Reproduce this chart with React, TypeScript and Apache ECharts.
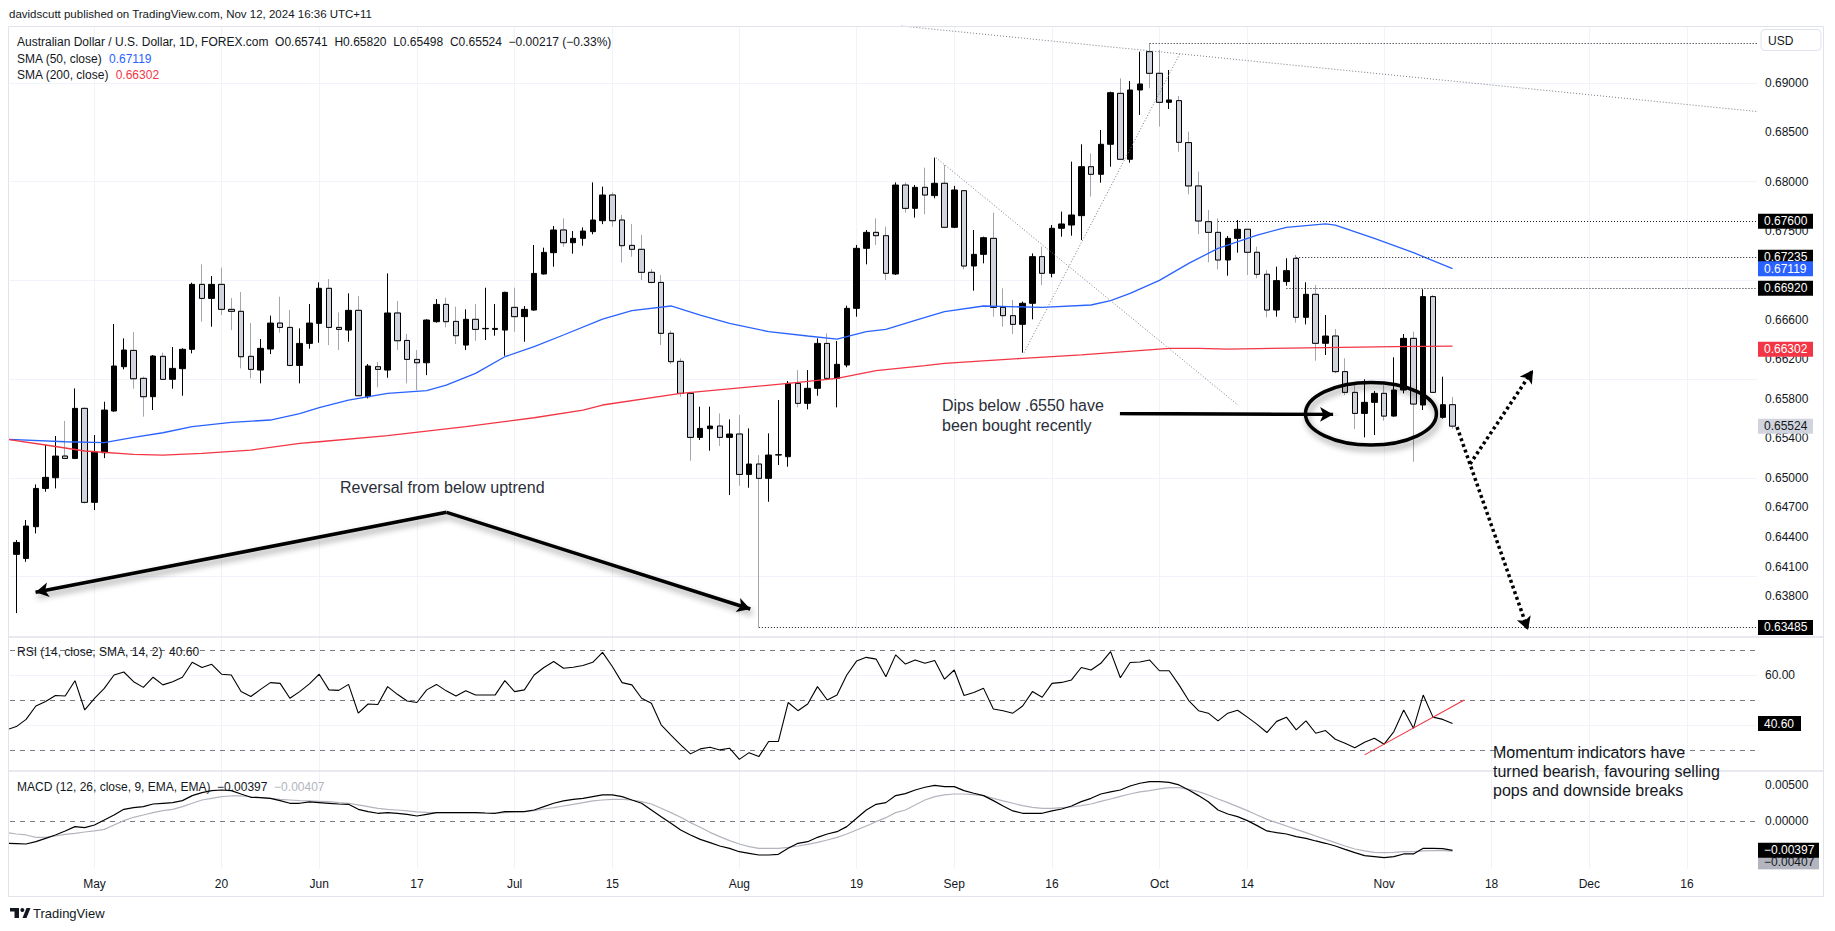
import React, { useEffect, useRef } from "react";
import * as echarts from "echarts";

// ---------- DATA ----------
const START_DATE = "2024-04-18"; // first (partly visible) daily bar

const opens = [0.6437, 0.64225, 0.64184, 0.64505, 0.64893, 0.65001, 0.65221, 0.65197, 0.65704, 0.64752,
  0.65255, 0.65677, 0.66126, 0.66291, 0.66008, 0.65822, 0.66231, 0.65998, 0.66106, 0.66302,
  0.6696, 0.66818, 0.6696, 0.66707, 0.66687, 0.66231, 0.66092, 0.66305, 0.66568, 0.66524,
  0.66139, 0.66362, 0.66565, 0.6692, 0.66524, 0.66497, 0.66697, 0.65822, 0.66126, 0.66092,
  0.6667, 0.66392, 0.662, 0.66166, 0.66582, 0.66757, 0.66585, 0.66345, 0.66606, 0.6651,
  0.66504, 0.66497, 0.66727, 0.66633, 0.667, 0.67065, 0.67281, 0.67511, 0.67382, 0.67426,
  0.67494, 0.67605, 0.67865, 0.67612, 0.67355, 0.67315, 0.67082, 0.6698, 0.66464, 0.6618,
  0.65856, 0.6541, 0.65498, 0.65525, 0.6541, 0.65444, 0.65035, 0.6514, 0.64995, 0.65231,
  0.65214, 0.65957, 0.65755, 0.65907, 0.66362, 0.66008, 0.66143, 0.66717, 0.67325, 0.67487,
  0.67453, 0.67065, 0.67966, 0.6773, 0.67943, 0.67859, 0.67984, 0.67538, 0.67909, 0.67146,
  0.67264, 0.67426, 0.66727, 0.66643, 0.66555, 0.66768, 0.67241, 0.67072, 0.67528, 0.67561,
  0.67656, 0.68152, 0.68075, 0.68379, 0.68895, 0.68227, 0.68929, 0.69317, 0.69098, 0.68804,
  0.68821, 0.68396, 0.67957, 0.67595, 0.67487, 0.67207, 0.67426, 0.67518, 0.67285, 0.67062,
  0.667, 0.66988, 0.67224, 0.66626, 0.66859, 0.66363, 0.66437, 0.66076, 0.65866, 0.65653,
  0.65765, 0.65856, 0.65626, 0.6589, 0.66413, 0.65738, 0.66836, 0.65613, 0.65741];

const highs = [0.6445, 0.6437, 0.64573, 0.64934, 0.65333, 0.65424, 0.65576, 0.65906, 0.65714, 0.65434,
  0.65771, 0.66558, 0.66413, 0.66477, 0.66025, 0.66244, 0.66268, 0.66325, 0.66312, 0.66977,
  0.67163, 0.67044, 0.67129, 0.66822, 0.66882, 0.66568, 0.66406, 0.66643, 0.66835, 0.667,
  0.66514, 0.66761, 0.6698, 0.67014, 0.66676, 0.66869, 0.66842, 0.66153, 0.66173, 0.67071,
  0.66791, 0.66457, 0.66295, 0.66606, 0.66811, 0.66825, 0.66734, 0.66707, 0.66761, 0.66926,
  0.66761, 0.66886, 0.66926, 0.6674, 0.67359, 0.67332, 0.67551, 0.67629, 0.675, 0.67537,
  0.67993, 0.6795, 0.67892, 0.67663, 0.67571, 0.6746, 0.67116, 0.67055, 0.66491, 0.66211,
  0.65873, 0.65721, 0.65721, 0.65653, 0.65592, 0.65636, 0.65501, 0.65231, 0.65451, 0.65788,
  0.65981, 0.66092, 0.66092, 0.66413, 0.66464, 0.66386, 0.66744, 0.67359, 0.67511, 0.67629,
  0.67544, 0.67993, 0.67993, 0.67966, 0.68142, 0.68244, 0.68169, 0.67957, 0.67916, 0.67511,
  0.67443, 0.67686, 0.6692, 0.66802, 0.66785, 0.67274, 0.67342, 0.67561, 0.67697, 0.68203,
  0.68379, 0.68287, 0.68524, 0.68912, 0.69047, 0.6902, 0.69317, 0.69402, 0.69334, 0.69132,
  0.68868, 0.68507, 0.68102, 0.67713, 0.67629, 0.6745, 0.67612, 0.67518, 0.67342, 0.67106,
  0.67139, 0.67224, 0.67258, 0.66981, 0.66954, 0.6665, 0.66508, 0.66211, 0.6594, 0.65998,
  0.6588, 0.6594, 0.66221, 0.66457, 0.66481, 0.6691, 0.66853, 0.66025, 0.6582];

const lows = [0.642, 0.6363, 0.6415, 0.64437, 0.6486, 0.64893, 0.6519, 0.6519, 0.6474, 0.64674,
  0.652, 0.6567, 0.66099, 0.65903, 0.6562, 0.65687, 0.6599, 0.65903, 0.65832, 0.66261,
  0.66582, 0.66531, 0.66649, 0.66497, 0.66109, 0.66008, 0.65957, 0.66254, 0.6647, 0.6613,
  0.65957, 0.66308, 0.66369, 0.66345, 0.66295, 0.66379, 0.6583, 0.65805, 0.65917, 0.66014,
  0.66295, 0.65957, 0.6589, 0.66041, 0.66572, 0.66524, 0.66355, 0.66295, 0.66389, 0.66396,
  0.6644, 0.66237, 0.6648, 0.66379, 0.66693, 0.6706, 0.67139, 0.67342, 0.67271, 0.67352,
  0.67467, 0.6757, 0.67544, 0.6718, 0.6724, 0.67004, 0.6697, 0.66346, 0.66153, 0.65822,
  0.65174, 0.65383, 0.65275, 0.65322, 0.64826, 0.6492, 0.649, 0.63485, 0.64758, 0.6513,
  0.65113, 0.65714, 0.65694, 0.65832, 0.6599, 0.65714, 0.6612, 0.66633, 0.67163, 0.67359,
  0.67004, 0.67055, 0.67686, 0.67636, 0.6767, 0.67832, 0.6753, 0.6753, 0.67112, 0.66896,
  0.67173, 0.66633, 0.66531, 0.66457, 0.66268, 0.66606, 0.66954, 0.67031, 0.67443, 0.67453,
  0.67409, 0.67849, 0.6799, 0.68152, 0.6822, 0.68193, 0.68676, 0.68946, 0.68558, 0.68737,
  0.68304, 0.67872, 0.6747, 0.67183, 0.67112, 0.67048, 0.67281, 0.67055, 0.67021, 0.66626,
  0.66633, 0.66947, 0.66572, 0.66555, 0.66187, 0.66245, 0.66059, 0.65839, 0.65495, 0.6541,
  0.65434, 0.65579, 0.6562, 0.65856, 0.65164, 0.65687, 0.6586, 0.656, 0.65498];

const closes = [0.6423, 0.64346, 0.64512, 0.64893, 0.65005, 0.65221, 0.65197, 0.65704, 0.64752, 0.65261,
  0.65687, 0.66133, 0.66295, 0.66004, 0.65822, 0.66234, 0.65998, 0.66109, 0.66302, 0.6696,
  0.66818, 0.6696, 0.66707, 0.66687, 0.66227, 0.66099, 0.66312, 0.66568, 0.66524, 0.66139,
  0.66362, 0.66568, 0.6692, 0.66524, 0.66504, 0.66697, 0.65832, 0.66133, 0.66099, 0.6667,
  0.66389, 0.662, 0.66166, 0.66599, 0.66757, 0.66582, 0.6644, 0.66606, 0.66504, 0.66514,
  0.66514, 0.66879, 0.66633, 0.66707, 0.67071, 0.67284, 0.67511, 0.67382, 0.67426, 0.675,
  0.67612, 0.67865, 0.67605, 0.67352, 0.67315, 0.67082, 0.6698, 0.66464, 0.66177, 0.65856,
  0.6541, 0.65501, 0.65525, 0.6541, 0.65444, 0.65035, 0.6514, 0.64995, 0.65231, 0.65235,
  0.65957, 0.65755, 0.65907, 0.66362, 0.66008, 0.6615, 0.66717, 0.67325, 0.67487, 0.67453,
  0.67072, 0.67966, 0.6773, 0.67943, 0.67865, 0.67984, 0.67538, 0.67916, 0.67146, 0.67264,
  0.67433, 0.66727, 0.66643, 0.66555, 0.66768, 0.67241, 0.67072, 0.67528, 0.67572, 0.67663,
  0.68152, 0.68075, 0.68379, 0.68902, 0.68227, 0.68929, 0.6899, 0.69098, 0.68804, 0.68828,
  0.68399, 0.67957, 0.67602, 0.67487, 0.67207, 0.67426, 0.67518, 0.67285, 0.67062, 0.667,
  0.66998, 0.67099, 0.66626, 0.66859, 0.66363, 0.66437, 0.66076, 0.65866, 0.65653, 0.65765,
  0.65856, 0.65626, 0.6589, 0.66413, 0.65748, 0.66836, 0.65866, 0.65741, 0.65524];

const sma50Idx = [0, 6, 10, 13, 16, 19, 23, 27, 30, 32, 35, 39, 43, 45, 48, 51, 54, 57, 61, 64, 68, 71, 74, 78, 82, 85, 88, 90, 93, 96, 100, 106, 111, 113, 115, 118, 121, 124, 128, 131, 135, 136, 140, 144, 148];
const sma50Val = [0.6539, 0.65366, 0.65356, 0.6541, 0.65457, 0.65518, 0.65562, 0.65586, 0.6565, 0.65711, 0.65788, 0.65856, 0.65883, 0.6594, 0.66058, 0.66227, 0.66329, 0.66447, 0.66608, 0.66693, 0.66741, 0.66649, 0.66565, 0.66481, 0.66437, 0.66406, 0.66481, 0.66504, 0.66595, 0.66683, 0.66741, 0.66727, 0.66751, 0.66795, 0.66869, 0.67, 0.67173, 0.67325, 0.6746, 0.67538, 0.67572, 0.67561, 0.67426, 0.67281, 0.67119];

const sma200Idx = [0, 4, 8, 13, 16, 20, 25, 30, 32, 39, 47, 54, 59, 61, 69, 80, 85, 89, 94, 96, 104, 110, 119, 122, 125, 135, 142, 148];
const sma200Val = [0.6539, 0.65333, 0.65272, 0.65238, 0.65231, 0.65248, 0.65282, 0.65349, 0.65366, 0.65427, 0.65518, 0.65609, 0.65687, 0.65738, 0.65856, 0.65957, 0.66008, 0.66086, 0.66136, 0.6616, 0.66211, 0.66245, 0.66312, 0.66312, 0.66305, 0.66319, 0.66329, 0.66335];

const rsiVals = [38.1, 39.4, 42.3, 47.7, 49.5, 51.9, 51.7, 57.9, 46.1, 50.8,
  54.8, 60.2, 61.4, 57.5, 55.2, 59.3, 56.2, 57.5, 59.3, 65.3,
  63.2, 64.5, 60.5, 60.2, 53.5, 51.5, 54.4, 57.1, 56.8, 50.8,
  53.5, 56.6, 60.5, 54.2, 54.0, 56.4, 44.8, 48.5, 48.3, 55.5,
  52.4, 49.7, 49.1, 54.2, 56.4, 53.8, 51.7, 53.8, 52.1, 52.1,
  52.1, 57.9, 53.5, 54.2, 60.2, 63.2, 65.6, 62.9, 63.3, 64.0,
  65.3, 69.3, 63.6, 57.1, 56.2, 50.8, 48.8, 40.1, 36.0, 32.0,
  28.4, 30.4, 31.1, 30.0, 30.7, 26.2, 28.9, 27.3, 33.4, 33.4,
  49.1, 45.8, 48.5, 55.5, 50.1, 52.1, 60.2, 65.8, 67.3, 66.6,
  59.5, 68.3, 64.6, 66.2, 64.9, 66.0, 58.5, 62.2, 51.9, 53.1,
  54.8, 46.5, 45.8, 44.8, 47.7, 53.5, 51.2, 56.8, 57.2, 58.2,
  63.2, 62.2, 64.9, 69.6, 59.1, 65.2, 65.4, 66.2, 61.9, 61.9,
  56.2, 49.9, 45.8, 44.8, 41.7, 44.8, 46.0, 43.2, 40.3, 37.0,
  41.5, 43.2, 38.1, 41.7, 36.7, 37.8, 34.3, 32.7, 30.9, 33.1,
  34.7, 32.3, 37.4, 46.1, 38.7, 52.1, 43.2, 42.3, 40.6];

const macdVals = [-0.00301, -0.00306, -0.00311, -0.00279, -0.00233, -0.00187, -0.00132, -0.00073, -0.00087, -0.0005,
  0.00018, 0.00087, 0.00164, 0.00187, 0.00201, 0.00237, 0.00247, 0.00256, 0.00283, 0.00352,
  0.00393, 0.0042, 0.00429, 0.0042, 0.00374, 0.00329, 0.00324, 0.00315, 0.00283, 0.00247,
  0.00247, 0.00265, 0.00256, 0.00247, 0.00237, 0.00233, 0.00164, 0.00132, 0.0011, 0.00119,
  0.0011, 0.00096, 0.00073, 0.00096, 0.00119, 0.00119, 0.00119, 0.00119, 0.00119, 0.00114,
  0.0011, 0.00132, 0.00132, 0.00132, 0.00155, 0.00201, 0.00247, 0.00279, 0.00301, 0.00315,
  0.00338, 0.00361, 0.00361, 0.00338, 0.00292, 0.00247, 0.00155, 0.00064, -0.00027, -0.00119,
  -0.00187, -0.00247, -0.00292, -0.00338, -0.0037, -0.00416, -0.00438, -0.00461, -0.00461, -0.00452,
  -0.0037, -0.00301, -0.00279, -0.00219, -0.00174, -0.00142, -0.00073, 0.00041, 0.00155, 0.00233,
  0.00256, 0.00352, 0.00379, 0.00429, 0.00466, 0.00493, 0.00475, 0.00475, 0.0042, 0.00384,
  0.00352, 0.00283, 0.0021, 0.00142, 0.0011, 0.0011, 0.0011, 0.00142, 0.00169, 0.0021,
  0.00269, 0.00315, 0.00374, 0.00402, 0.00429, 0.00484, 0.00521, 0.00543, 0.00543, 0.00534,
  0.00498, 0.00429, 0.00352, 0.00269, 0.00155, 0.001, 0.00064, 0.00009, -0.00059, -0.00132,
  -0.00155, -0.00174, -0.0021, -0.00233, -0.00269, -0.00301, -0.00338, -0.00384, -0.00429, -0.0047,
  -0.00484, -0.00498, -0.00484, -0.00447, -0.00447, -0.0037, -0.0037, -0.00374, -0.00397];

const signalVals = [-0.00155, -0.00174, -0.00187, -0.00219, -0.00219, -0.00201, -0.00178, -0.00164, -0.00146, -0.00132,
  -0.0011, -0.0005, 0.00009, 0.00055, 0.00087, 0.00119, 0.00146, 0.00164, 0.00201, 0.00247,
  0.00292, 0.00315, 0.00338, 0.00347, 0.00347, 0.00338, 0.00324, 0.00315, 0.00301, 0.00292,
  0.00283, 0.00279, 0.00274, 0.00269, 0.00256, 0.00247, 0.00224, 0.00201, 0.00178, 0.00164,
  0.00155, 0.00142, 0.00128, 0.00123, 0.00119, 0.00119, 0.00119, 0.00119, 0.00119, 0.00114,
  0.0011, 0.00119, 0.00128, 0.00132, 0.00146, 0.00169, 0.00187, 0.0021, 0.00233, 0.00256,
  0.00279, 0.00292, 0.00301, 0.00301, 0.00292, 0.00269, 0.00237, 0.00178, 0.00119, 0.00055,
  -0.00018, -0.00082, -0.00151, -0.0021, -0.00265, -0.00311, -0.00347, -0.0037, -0.0037, -0.0037,
  -0.00356, -0.00338, -0.00315, -0.00288, -0.00256, -0.00219, -0.00174, -0.00119, -0.00064, -0.00005,
  0.0005, 0.00119, 0.00155, 0.00224, 0.00292, 0.00338, 0.00361, 0.00374, 0.00374, 0.00365,
  0.00352, 0.00315, 0.00279, 0.00247, 0.00215, 0.00192, 0.00178, 0.00178, 0.00187, 0.00196,
  0.00215, 0.00237, 0.00274, 0.00306, 0.00342, 0.00374, 0.00402, 0.0042, 0.00443, 0.00461,
  0.00461, 0.00438, 0.00406, 0.00361, 0.00306, 0.00256, 0.00201, 0.00146, 0.00087, 0.00027,
  -0.00018, -0.00064, -0.0011, -0.00155, -0.00201, -0.00247, -0.00292, -0.00338, -0.00379, -0.00406,
  -0.00425, -0.00429, -0.00425, -0.00416, -0.00416, -0.00406, -0.00402, -0.00402, -0.00407];

// grid lines of each pane, and which of them carry a visible scale label
const priceTicks = [0.69, 0.685, 0.68, 0.675, 0.67, 0.666, 0.662, 0.658, 0.654, 0.65, 0.647, 0.644, 0.641, 0.638, 0.635];
const priceLabelTicks = [0.69, 0.685, 0.68, 0.675, 0.666, 0.662, 0.658, 0.654, 0.65, 0.647, 0.644, 0.641, 0.638];
const rsiTicks = [60, 40];
const rsiLabelTicks = [60];
const rsiLevels = [70, 50, 30];
const macdTicks = [0.005, -0.005];
const macdLabelTicks = [0.005, 0];
const macdZero = [0];

const xTickLabels = ["May", "20", "Jun", "17", "Jul", "15", "Aug", "19", "Sep", "16", "Oct", "14", "Nov", "18", "Dec", "16"];
const xTickDates = ["2024-05-01", "2024-05-20", "2024-06-03", "2024-06-17", "2024-07-01", "2024-07-15", "2024-08-01", "2024-08-19",
  "2024-09-02", "2024-09-16", "2024-10-01", "2024-10-14", "2024-11-01", "2024-11-18", "2024-12-02", "2024-12-16"];

// horizontal levels (price, start bar)
const levelPrices = [0.694, 0.676, 0.67235, 0.6692, 0.63485];
const levelStarts = [117, 124, 132, 131, 77];
// dotted trend lines [bar1, price1, bar2, price2]
const trendLines = [
  [91.6, 0.69577, 179.16, 0.68711],
  [0.35, 0.68534, 179.16, 0.68184],
  [0.35, 0.63796, 179.16, 0.65369],
  [95.13, 0.68243, 126.04, 0.65738],
  [104.14, 0.66268, 120.1, 0.69299],
];
const arrowLines = [
  [45.04, 0.64651, 2.97, 0.63841],
  [45.04, 0.64651, 76.12, 0.63672],
  [113.96, 0.65652, 135.77, 0.65642],
];
const dottedArrows = [
  [148.46, 0.65515, 155.73, 0.63459],
  [149.79, 0.6514, 156.24, 0.66093],
];
const rsiTrend = [139.0, 28.0, 149.2, 50.1];
const ellipseCenter = [139.65, 0.6565];

// ---------- helpers ----------
function tradingDays(start: string, n: number): string[] {
  const out: string[] = [];
  const d = new Date(start + "T00:00:00Z");
  while (out.length < n) {
    const wd = d.getUTCDay();
    if (wd !== 0 && wd !== 6) out.push(d.toISOString().slice(0, 10));
    d.setUTCDate(d.getUTCDate() + 1);
  }
  return out;
}

const FONT = '"Liberation Sans", Arial, sans-serif';
const TXT = "#131722";
const XMIN = 0.351;
const XMAX = 179.164;

export default function App() {
  const ref = useRef<HTMLDivElement>(null);
  useEffect(() => {
    const el = ref.current!;
    const chart = echarts.init(el, undefined, { renderer: "svg" });
    const days = tradingDays(START_DATE, 200);
    const xTickIdx = xTickDates.map((d) => days.indexOf(d));

    const candles = opens.map((o, i) => [i, o, closes[i], lows[i], highs[i]]);
    const downBodies = opens
      .map((o, i) => [i, o, closes[i], Math.min(o, closes[i]), Math.max(o, closes[i])])
      .filter((d) => d[2] < d[1]);

    const grid = [
      { left: 10, top: 26, width: 1747, height: 611 },
      { left: 10, top: 637, width: 1747, height: 134 },
      { left: 10, top: 771, width: 1747, height: 98 },
    ].map((g) => ({ ...g, containLabel: false, outerBoundsMode: "none" }));

    const hidden = { axisLabel: { show: false }, axisTick: { show: false }, axisLine: { show: false }, splitLine: { show: false } };
    const xAxis = [0, 1, 2].map((i) => ({ type: "value", gridIndex: i, min: XMIN, max: XMAX, ...hidden }));
    const yAxis = [
      { type: "value", gridIndex: 0, position: "right", min: 0.63388, max: 0.695772, ...hidden },
      { type: "value", gridIndex: 1, position: "right", min: 21.5, max: 75.5, ...hidden },
      { type: "value", gridIndex: 2, position: "right", min: -0.00653, max: 0.00689, ...hidden },
    ];

    const gridColor = "#f0f3fa";
    const vLines = xTickIdx.map((i) => ({ xAxis: i }));
    const mlBase = { silent: true, symbol: "none", label: { show: false }, emphasis: { disabled: true }, animation: false };
    const seg = (a: number[]) => [{ coord: [a[0], a[1]] }, { coord: [a[2], a[3]] }];

    const series: any[] = [
      {
        type: "line", xAxisIndex: 0, yAxisIndex: 0, data: [], z: 1,
        markLine: { ...mlBase, z: 1, lineStyle: { color: gridColor, width: 1, type: "solid" },
          data: [...priceTicks.map((p) => ({ yAxis: p })), ...vLines] },
      },
      {
        type: "line", xAxisIndex: 1, yAxisIndex: 1, data: [], z: 1,
        markLine: { ...mlBase, z: 1, lineStyle: { color: gridColor, width: 1, type: "solid" },
          data: [...rsiTicks.map((p) => ({ yAxis: p })), ...vLines,
            ...rsiLevels.map((p) => ({ yAxis: p, lineStyle: { color: "#787b86", type: [5, 5], width: 1 } }))] },
      },
      {
        type: "line", xAxisIndex: 2, yAxisIndex: 2, data: [], z: 1,
        markLine: { ...mlBase, z: 1, lineStyle: { color: gridColor, width: 1, type: "solid" },
          data: [...macdTicks.map((p) => ({ yAxis: p })), ...vLines,
            ...macdZero.map((p) => ({ yAxis: p, lineStyle: { color: "#787b86", type: [5, 5], width: 1 } }))] },
      },
      {
        type: "candlestick", xAxisIndex: 0, yAxisIndex: 0, data: candles, barWidth: 6, z: 2,
        encode: { x: 0, y: [1, 2, 3, 4] },
        itemStyle: { color: "#000000", color0: "#d1d4dc", borderColor: "#000000", borderColor0: "#a3a6af", borderWidth: 1 },
      },
      {
        type: "candlestick", xAxisIndex: 0, yAxisIndex: 0, data: downBodies, barWidth: 6, z: 3,
        encode: { x: 0, y: [1, 2, 3, 4] },
        itemStyle: { color: "#000000", color0: "#d1d4dc", borderColor: "#000000", borderColor0: "#000000", borderWidth: 1 },
      },
      {
        type: "line", xAxisIndex: 0, yAxisIndex: 0, z: 4, showSymbol: false, silent: true,
        data: sma50Idx.map((x, i) => [x, sma50Val[i]]), lineStyle: { color: "#2962ff", width: 1.3 },
      },
      {
        type: "line", xAxisIndex: 0, yAxisIndex: 0, z: 4, showSymbol: false, silent: true,
        data: sma200Idx.map((x, i) => [x, sma200Val[i]]), lineStyle: { color: "#f23645", width: 1.3 },
      },
      {
        type: "line", xAxisIndex: 0, yAxisIndex: 0, data: [], z: 5,
        markLine: { ...mlBase, z: 5, lineStyle: { color: "#131722", width: 1, type: [1, 2] },
          data: levelPrices.map((p, i) => [{ coord: [levelStarts[i], p] }, { coord: [XMAX, p] }]) },
      },
      {
        type: "line", xAxisIndex: 0, yAxisIndex: 0, data: [], z: 5,
        markLine: { ...mlBase, z: 5, lineStyle: { color: "#787b86", width: 1, type: [1, 2] },
          data: trendLines.map(seg) },
      },
      {
        type: "line", xAxisIndex: 0, yAxisIndex: 0, data: [], z: 6,
        markLine: { ...mlBase, z: 6, symbol: ["none", "arrow"], symbolSize: [11, 13],
          lineStyle: { color: "#000", width: 3.5, type: "solid", shadowColor: "rgba(0,0,0,0.4)", shadowBlur: 6, shadowOffsetX: 2, shadowOffsetY: 4 },
          itemStyle: { color: "#000" },
          data: arrowLines.map(seg) },
      },
      {
        type: "line", xAxisIndex: 0, yAxisIndex: 0, data: [], z: 6,
        markLine: { ...mlBase, z: 6, symbol: ["none", "arrow"], symbolSize: [11, 13],
          lineStyle: { color: "#000", width: 3.5, type: [3, 3] },
          itemStyle: { color: "#000" },
          data: dottedArrows.map(seg) },
      },
      {
        type: "line", xAxisIndex: 1, yAxisIndex: 1, z: 3, showSymbol: false, silent: true,
        data: rsiVals.map((v, i) => [i, v]), lineStyle: { color: "#000", width: 1.1 },
      },
      {
        type: "line", xAxisIndex: 1, yAxisIndex: 1, z: 4, showSymbol: false, silent: true,
        data: [[rsiTrend[0], rsiTrend[1]], [rsiTrend[2], rsiTrend[3]]], lineStyle: { color: "#f23645", width: 1.1 },
      },
      {
        type: "line", xAxisIndex: 2, yAxisIndex: 2, z: 3, showSymbol: false, silent: true,
        data: signalVals.map((v, i) => [i, v]), lineStyle: { color: "#b2b5be", width: 1.2 },
      },
      {
        type: "line", xAxisIndex: 2, yAxisIndex: 2, z: 4, showSymbol: false, silent: true,
        data: macdVals.map((v, i) => [i, v]), lineStyle: { color: "#000", width: 1.2 },
      },
    ];

    chart.setOption({
      animation: false,
      backgroundColor: "#ffffff",
      grid, xAxis, yAxis, series,
    });

    // ---------- phase 2: texts & overlays positioned via the chart's scales ----------
    const g: any[] = [];
    let z = 100;
    const font = (s: number) => `${s}px ${FONT}`;
    const text = (x: number, y: number, t: string, size: number, fill = TXT, align = "left") =>
      g.push({ type: "text", x, y, silent: true, z: z++, style: { text: t, fill, font: font(size), align, verticalAlign: "middle" } });
    const yPx = (axis: number, v: number) => chart.convertToPixel({ yAxisIndex: axis } as any, v) as number;
    const xPx = (v: number) => chart.convertToPixel({ xAxisIndex: 0 } as any, v) as number;

    // frame + pane separators
    g.push({ type: "rect", silent: true, z: 90, shape: { x: 8.5, y: 26.5, width: 1815, height: 870 }, style: { fill: "none", stroke: "#e0e3eb", lineWidth: 1 } });
    [637, 771].forEach((y) => g.push({ type: "line", silent: true, z: 90, shape: { x1: 9, y1: y, x2: 1823, y2: y }, style: { stroke: "#e0e3eb", lineWidth: 1.5 } }));

    // header + legends
    text(9, 14, "davidscutt published on TradingView.com, Nov 12, 2024 16:36 UTC+11", 11.5);
    text(17, 42, "Australian Dollar / U.S. Dollar, 1D, FOREX.com  O0.65741  H0.65820  L0.65498  C0.65524  \u22120.00217 (\u22120.33%)", 12);
    const rich = (x: number, y: number, parts: [string, string][]) =>
      g.push({
        type: "text", x, y, silent: true, z: z++,
        style: {
          text: parts.map((p, i) => `{s${i}|${p[0]}}`).join("  "),
          font: font(12), verticalAlign: "middle",
          rich: Object.fromEntries(parts.map((p, i) => [`s${i}`, { fill: p[1], fontSize: 12, fontFamily: FONT }])),
        },
      });
    rich(17, 58.5, [["SMA (50, close)", TXT], ["0.67119", "#2962ff"]]);
    rich(17, 75, [["SMA (200, close)", TXT], ["0.66302", "#f23645"]]);
    rich(17, 652, [["RSI (14, close, SMA, 14, 2)", TXT], ["40.60", TXT]]);
    rich(17, 787, [["MACD (12, 26, close, 9, EMA, EMA)", TXT], ["\u22120.00397", TXT], ["\u22120.00407", "#b2b5be"]]);

    // price scale labels
    const fmt5 = (v: number) => (v < 0 ? "\u2212" : "") + Math.abs(v).toFixed(5);
    priceLabelTicks.forEach((p) => text(1765, yPx(0, p), p.toFixed(5), 12));
    rsiLabelTicks.forEach((p) => text(1765, yPx(1, p), p.toFixed(2), 12));
    macdLabelTicks.forEach((p) => text(1765, yPx(2, p), fmt5(p), 12));

    // USD box
    g.push({ type: "rect", silent: true, z: z++, shape: { x: 1761, y: 29.5, width: 60, height: 21, r: 4 }, style: { fill: "#fff", stroke: "#e0e3eb", lineWidth: 1 } });
    text(1768, 40.5, "USD", 12);

    const box = (y: number, t: string, bg: string, fg: string, w: number) => {
      g.push({ type: "rect", silent: true, z: z++, shape: { x: 1758, y: y - 7.5, width: w, height: 15 }, style: { fill: bg } });
      text(1764, y, t, 12, fg);
    };
    box(yPx(0, 0.63485), "0.63485", "#000", "#fff", 55);
    box(yPx(0, 0.65524), "0.65524", "#d1d4dc", TXT, 55);
    box(yPx(0, 0.66302), "0.66302", "#f23645", "#fff", 55);
    box(yPx(0, 0.6692), "0.66920", "#000", "#fff", 55);
    box(yPx(0, 0.67235), "0.67235", "#000", "#fff", 55);
    box(yPx(0, 0.67119), "0.67119", "#2962ff", "#fff", 55);
    box(yPx(0, 0.676), "0.67600", "#000", "#fff", 55);
    box(yPx(1, 40.6), "40.60", "#000", "#fff", 43);
    box(yPx(2, -0.00397) + 12, "\u22120.00407", "#b2b5be", TXT, 61);
    box(yPx(2, -0.00397), "\u22120.00397", "#000", "#fff", 61);
    g.push({ type: "rect", silent: true, z: z++, shape: { x: 1757, y: 869.5, width: 65, height: 8 }, style: { fill: "#fff" } });

    // time axis labels
    xTickIdx.forEach((i, k) => text(xPx(i), 884, xTickLabels[k], 12, TXT, "center"));

    // annotations
    const annColor = "#2a2e39";
    text(340, 487, "Reversal from below uptrend", 16, annColor);
    text(942, 405, "Dips below .6550 have", 16, annColor);
    text(942, 425, "been bought recently", 16, annColor);
    text(1493, 752, "Momentum indicators have", 16, TXT);
    text(1493, 771, "turned bearish, favouring selling", 16, TXT);
    text(1493, 790, "pops and downside breaks", 16, TXT);

    const [ecx, ecy] = chart.convertToPixel({ gridIndex: 0 } as any, ellipseCenter) as number[];
    g.push({
      type: "ellipse", silent: true, z: z++, shape: { cx: ecx, cy: ecy, rx: 65.5, ry: 31.3 },
      style: { fill: "none", stroke: "#000", lineWidth: 3.5, shadowColor: "rgba(0,0,0,0.4)", shadowBlur: 6, shadowOffsetX: 2, shadowOffsetY: 4 },
    });

    // TradingView logo
    g.push({ type: "rect", silent: true, z: z++, shape: { x: 10, y: 908, width: 9, height: 3.5 }, style: { fill: TXT } });
    g.push({ type: "rect", silent: true, z: z++, shape: { x: 14.5, y: 908, width: 4.5, height: 10 }, style: { fill: TXT } });
    g.push({ type: "circle", silent: true, z: z++, shape: { cx: 22.3, cy: 910, r: 2 }, style: { fill: TXT } });
    g.push({ type: "polygon", silent: true, z: z++, shape: { points: [[22.5, 918], [26.5, 908], [30.5, 908], [26.5, 918]] }, style: { fill: TXT } });
    text(33, 913.5, "TradingView", 13);

    chart.setOption({ graphic: { elements: g } });

    return () => chart.dispose();
  }, []);

  return <div ref={ref} style={{ position: "fixed", left: 0, top: 0, width: 1835, height: 931, background: "#fff" }} />;
}
